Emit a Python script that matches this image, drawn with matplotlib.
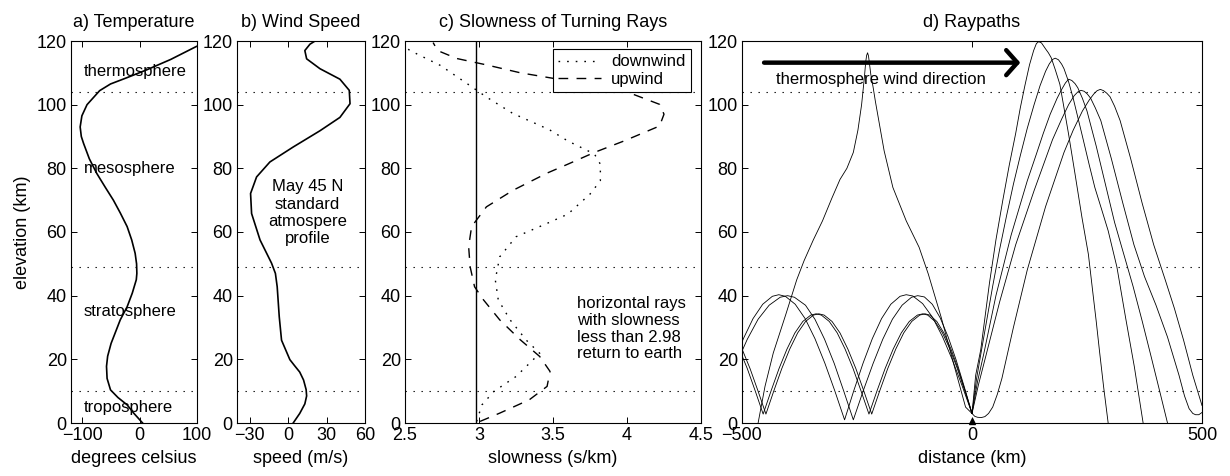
import numpy as np
import matplotlib
matplotlib.use("Agg")
import matplotlib.pyplot as plt

plt.rcParams['font.family'] = ['Liberation Sans', 'DejaVu Sans']
plt.rcParams['font.size'] = 13
plt.rcParams['axes.linewidth'] = 0.8

# =============================================================================
# Data
# =============================================================================
layer_bounds = [10, 49, 104]  # km, dotted layer boundaries

# a) temperature profile (deg C vs km)
temp_c = [5, -10, -22, -38, -51, -57, -58, -56, -50, -34, -22, -13, -6, -5, -5.5,
          -8, -14, -22, -34, -46, -60, -75, -88, -98, -102, -104, -101, -92, -70,
          -51, -22, 13, 54, 98, 110]
temp_z = [0, 3, 5.7, 8, 10.4, 14, 17.8, 21, 25, 32.4, 36.5, 40.8, 45, 47, 50,
          53.3, 57.5, 61.7, 66, 70, 74, 78.4, 83, 87.8, 90, 93, 96.5, 100, 104.4,
          106.5, 108.5, 111, 114.2, 118.2, 119.2]

# b) wind speed profile (m/s vs km)
wind_ms = [3.9, 9, 13, 14.4, 14, 12, 9, 5, 1.3, -5.2, -7, -8.6, -10, -13, -22,
           -28.6, -29.4, -24.7, -14.3, 3.9, 24.8, 40.4, 48.3, 47.7, 40.4, 24.8,
           14.4, 13, 17, 21]
wind_z = [0, 3, 6, 8.5, 10.5, 13.5, 16, 18, 19.9, 26, 33.4, 42.8, 47, 50.2, 57.5,
          65.8, 72.1, 77.3, 82, 86.7, 91.8, 96, 100.3, 104.5, 108, 111.3,
          114.4, 117, 119, 120]

# c) slowness of turning rays (s/km vs km)
down_s = [2.984, 3.02, 3.10, 3.25, 3.41, 3.32, 3.21, 3.13, 3.11, 3.14, 3.25,
          3.45, 3.60, 3.75, 3.82, 3.82, 3.78, 3.60, 3.48, 3.41, 3.23, 3.05,
          2.92, 2.74, 2.534, 2.49]
down_z = [0.5, 5.7, 9.9, 14.6, 21.9, 26, 32.4, 38.7, 45, 52.2, 58.5,
          62.5, 65.6, 71.9, 76.1, 81.3, 84.5, 88.6, 92, 93.5, 97.2, 102.4,
          106.6, 112.3, 117, 118.5]
up_s = [3.007, 3.14, 3.34, 3.46, 3.48, 3.41, 3.28, 3.14, 3.03, 2.97, 2.94,
        2.93, 2.95, 3.05, 3.23, 3.46, 3.60, 3.78, 3.98, 4.22, 4.25, 4.22,
        4.0, 3.6, 3.28, 3.05, 2.85, 2.72, 2.69]
up_z = [0.5, 3.1, 7.3, 11.5, 16.2, 20.9, 26.1, 32.4, 38.7, 42.8, 49.1,
        55.4, 61.7, 67.9, 73.1, 78.5, 81.3, 85, 88.6, 93.3, 97, 100.1,
        104, 107.5, 110, 112.5, 114.5, 117, 119.5]
slowness_cut = 2.98

# d) raypaths (distance km vs elevation km)
# downwind rays turning in the thermosphere
r1_x = [0, 4, 8, 19, 38, 52, 67, 81, 95, 105, 115, 125, 134, 140, 145, 151, 160, 166,
        172, 181, 191, 200, 210, 224, 239, 253, 263, 270, 277, 286, 296]
r1_z = [3, 9, 15, 23, 44, 57.5, 70, 81, 91, 99, 106, 112.5, 117, 119.2, 119.8, 119.4,
        117.5, 116.3, 114.8, 111, 106.4, 99, 90.7, 78.2, 64.6, 53, 40.6, 32, 22.8, 11.5, 0]
r2_x = [0, 5, 10, 22, 45, 60, 75, 90, 105, 120, 135, 148, 160, 168, 175, 181, 188, 195,
        200, 210, 220, 239, 255, 267, 282, 296, 315, 334, 353, 372]
r2_z = [3, 8.5, 14, 24, 43, 54.5, 65, 75, 84, 92.5, 100, 106, 110.5, 112.8, 114.2, 114.6,
        114.1, 112.7, 111.3, 107.2, 102, 90.7, 81, 74, 67, 60.4, 49, 33, 17.6, 0]
r3_x = [0, 6, 12, 26, 52, 85, 120, 140, 155, 170, 185, 195, 203, 210, 217, 224, 230,
        240, 250, 270, 290, 310, 330, 350, 370, 390, 408, 425]
r3_z = [3, 8, 13, 22, 40, 59, 76, 84.5, 91, 97, 102, 104.8, 106.8, 108, 107.6, 106.6,
        105.3, 102, 98, 87, 75, 63, 53, 43, 32, 20.5, 10, 0]
r4_x = [0, 7, 14, 30, 60, 95, 135, 155, 175, 195, 210, 222, 230, 237, 244, 251, 258,
        268, 280, 303, 328, 352, 375, 400, 425, 450, 462, 472, 480, 486, 493, 500]
r4_z = [3, 7.5, 12, 21, 38, 56, 73, 81, 89, 95.5, 100, 102.8, 104, 104.5, 104.2, 103.3,
        102, 99, 95, 83, 69, 56, 46, 37, 27, 15, 8.5, 4.5, 3, 2.6, 2.6, 3.3]
r5_x = [0, 6, 12, 20, 28, 36, 45, 55, 65, 90, 120, 160, 200, 220, 240, 255, 265, 272,
        279, 286, 293, 300, 310, 322, 345, 370, 395, 420, 440, 460, 480, 500]
r5_z = [3, 2.1, 1.8, 1.7, 2, 3, 5, 9, 14, 30, 48, 68, 85, 92, 98, 101.5, 103.4, 104.4,
        104.8, 104.4, 103.6, 102.5, 99.5, 95, 83, 69, 56, 45, 36, 26, 15, 5.5]

# upwind rays
l0_x = [0, -14, -38, -67, -95, -115, -143, -172, -191, -210, -215, -220, -223, -225,
        -227, -229, -231, -234, -240, -248, -258, -272, -287, -305, -325, -345, -365,
        -381, -405, -432, -450, -465]
l0_z = [3, 5, 17.6, 33.2, 46.8, 55.2, 63.5, 74, 85.5, 101, 105.5, 109.5, 113, 115.3,
        116.3, 115.5, 113.5, 108.5, 100, 92, 85, 80, 76.5, 70.5, 63.5, 57.5, 51,
        45, 34, 22, 11.5, 0]
l1_x = [0, -21.5, -42.9, -64.4, -85.8, -107.3, -128.7, -143,
        -156.4, -176.5, -196.6, -216.7, -236.8, -256.9, -277,
        -298.5, -319.9, -341.4, -362.8, -384.3, -405.7, -420,
        -434, -455, -476, -497, -504]
l1_z = [3, 11.7, 19.9, 27.2, 33.2, 37.5, 39.9, 40.3,
        39.8, 37.3, 32.8, 26.5, 18.8, 10.2, 1,
        10.2, 18.8, 26.5, 32.8, 37.3, 39.8, 40.3,
        39.8, 37.3, 32.8, 26.5, 24]
l2_x = [0, -17.3, -34.5, -51.8, -69, -86.3, -103.5, -118,
        -131.5, -152, -173, -194, -215, -236.5, -258,
        -279, -299.5, -320.5, -341.5, -362, -386, -401,
        -417, -441, -465, -488.5, -512]
l2_z = [3, 11.6, 19.8, 27.0, 33.0, 37.3, 39.6, 40,
        39.5, 37.0, 32.6, 26.3, 18.7, 10.1, 1,
        10.1, 18.7, 26.3, 32.6, 37.0, 39.5, 40,
        39.5, 37.0, 32.6, 26.3, 18.7]
l3_x = [0, -16, -32.1, -48.2, -64.2, -80.3, -96.3, -107,
        -118.7, -136.3, -153.8, -171.4, -188.9, -206.5, -224,
        -241.3, -258.5, -275.8, -293, -310.3, -327.5, -339,
        -350.5, -367.8, -385, -402.3, -419.5, -436.8, -454,
        -471.3, -488.5, -505.8]
l3_z = [3, 10.3, 17.2, 23.3, 28.3, 31.9, 33.9, 34.3,
        33.9, 31.9, 28.3, 23.2, 17.1, 10.1, 2.8,
        10.1, 17.1, 23.2, 28.3, 31.9, 33.9, 34.3,
        33.9, 31.9, 28.3, 23.2, 17.1, 10.1, 2.8,
        10.1, 17.1, 23.2]
l4_x = [0, -15.3, -30.6, -45.9, -61.2, -76.5, -91.8, -102,
        -113.6, -131, -148.4, -165.8, -183.2, -200.6, -218,
        -235.3, -252.5, -269.8, -287, -304.3, -321.5, -333,
        -344.5, -361.8, -379, -396.3, -413.5, -430.8, -448,
        -465.3, -482.5, -499.8, -517]
l4_z = [3, 10.3, 17.2, 23.3, 28.3, 31.9, 33.9, 34.3,
        33.9, 31.9, 28.3, 23.2, 17.1, 10.1, 2.8,
        10.1, 17.1, 23.2, 28.3, 31.9, 33.9, 34.3,
        33.9, 31.9, 28.3, 23.2, 17.1, 10.1, 2.8,
        10.1, 17.1, 23.2, 28.3]

rays_x = [r1_x, r2_x, r3_x, r4_x, r5_x, l0_x, l1_x, l2_x, l3_x, l4_x]
rays_z = [r1_z, r2_z, r3_z, r4_z, r5_z, l0_z, l1_z, l2_z, l3_z, l4_z]

# =============================================================================
# Figure layout (matlab style: four boxed panels sharing the elevation axis)
# =============================================================================
W, H = 1230, 476
fig = plt.figure(figsize=(W / 100, H / 100), dpi=100)
bot, hgt = 53 / H, 382 / H
ax_a = fig.add_axes([71 / W, bot, 126 / W, hgt])
ax_b = fig.add_axes([237 / W, bot, 128 / W, hgt])
ax_c = fig.add_axes([405 / W, bot, 296 / W, hgt])
ax_d = fig.add_axes([742 / W, bot, 460 / W, hgt])

dot = dict(color="k", lw=0.8, linestyle=(0, (1.2, 6)))

for ax in [ax_a, ax_b, ax_c, ax_d]:
    ax.set_ylim(0, 120)
    ax.set_yticks(range(0, 121, 20))
    ax.tick_params(direction="in", top=True, right=True, length=4, width=0.7,
                   labelsize=13, pad=3)
    for z in layer_bounds:
        ax.axhline(z, **dot)

# ---- a) Temperature ----
ax_a.plot(temp_c, temp_z, color="k", lw=1.2)
ax_a.set_xlim(-120, 100)
ax_a.set_xticks([-100, 0, 100])
ax_a.set_title("a) Temperature", fontsize=13, pad=10)
ax_a.set_xlabel("degrees celsius", fontsize=13)
ax_a.set_ylabel("elevation (km)", fontsize=13)
for lbl, z in [("thermosphere", 110.3), ("mesosphere", 80),
               ("stratosphere", 35), ("troposphere", 5)]:
    ax_a.text(-98, z, lbl, fontsize=12, va="center", ha="left")

# ---- b) Wind Speed ----
ax_b.plot(wind_ms, wind_z, color="k", lw=1.2)
ax_b.set_xlim(-40, 60)
ax_b.set_xticks([-30, 0, 30, 60])
ax_b.set_title("b) Wind Speed", fontsize=13, pad=10)
ax_b.set_xlabel("speed (m/s)", fontsize=13)
ax_b.text(15, 66, "May 45 N\nstandard\natmospere\nprofile", fontsize=12,
          ha="center", va="center", multialignment="center", linespacing=1.2)

# ---- c) Slowness of Turning Rays ----
ax_c.plot(down_s, down_z, color="k", lw=1.0, linestyle=(0, (1.2, 5)), label="downwind")
ax_c.plot(up_s, up_z, color="k", lw=1.0, linestyle=(0, (7, 6)), label="upwind")
ax_c.axvline(slowness_cut, color="k", lw=1.0)
ax_c.set_xlim(2.5, 4.5)
ax_c.set_xticks([2.5, 3, 3.5, 4, 4.5])
ax_c.set_xticklabels(["2.5", "3", "3.5", "4", "4.5"])
ax_c.set_title("c) Slowness of Turning Rays", fontsize=13, pad=10)
ax_c.set_xlabel("slowness (s/km)", fontsize=13)
ax_c.text(3.66, 29.6, "horizontal rays\nwith slowness\nless than 2.98\nreturn to earth",
          fontsize=12, ha="left", va="center", linespacing=1.15)
leg = ax_c.legend(loc="upper right", bbox_to_anchor=(0.965, 0.978), fontsize=12,
                  fancybox=False, framealpha=1, edgecolor="k", borderpad=0.3,
                  labelspacing=0.15, handlelength=2.6, handletextpad=0.6,
                  borderaxespad=0)
leg.get_frame().set_linewidth(0.8)

# ---- d) Raypaths ----
for xs, zs in zip(rays_x, rays_z):
    ax_d.plot(xs, zs, color="k", lw=0.6)
ax_d.plot([0], [0.6], marker="^", color="k", markersize=5, clip_on=False)
ax_d.set_xlim(-500, 500)
ax_d.set_xticks([-500, 0, 500])
ax_d.set_title("d) Raypaths", fontsize=13, pad=10)
ax_d.set_xlabel("distance (km)", fontsize=13)
ax_d.annotate("", xy=(105, 113.2), xytext=(-452, 113.2),
              arrowprops=dict(arrowstyle="->,head_length=0.4,head_width=0.45",
                              lw=3.2, color="k", mutation_scale=20,
                              shrinkA=0, shrinkB=0))
ax_d.text(-426, 107.8, "thermosphere wind direction", fontsize=12,
          ha="left", va="center")

fig.savefig("out.png", dpi=100)
